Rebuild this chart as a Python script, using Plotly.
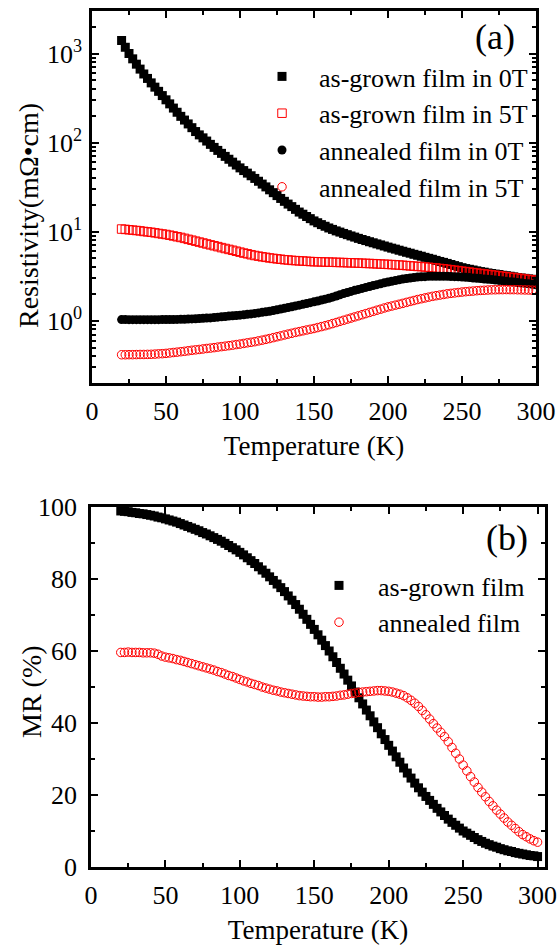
import plotly.graph_objects as go
import math

temperature_K = [
    20.0, 22.5, 25.0, 27.5, 30.0, 32.5, 35.0, 37.5,
    40.0, 42.5, 45.0, 47.5, 50.0, 52.5, 55.0, 57.5,
    60.0, 62.5, 65.0, 67.5, 70.0, 72.5, 75.0, 77.5,
    80.0, 82.5, 85.0, 87.5, 90.0, 92.5, 95.0, 97.5,
    100.0, 102.5, 105.0, 107.5, 110.0, 112.5, 115.0, 117.5,
    120.0, 122.5, 125.0, 127.5, 130.0, 132.5, 135.0, 137.5,
    140.0, 142.5, 145.0, 147.5, 150.0, 152.5, 155.0, 157.5,
    160.0, 162.5, 165.0, 167.5, 170.0, 172.5, 175.0, 177.5,
    180.0, 182.5, 185.0, 187.5, 190.0, 192.5, 195.0, 197.5,
    200.0, 202.5, 205.0, 207.5, 210.0, 212.5, 215.0, 217.5,
    220.0, 222.5, 225.0, 227.5, 230.0, 232.5, 235.0, 237.5,
    240.0, 242.5, 245.0, 247.5, 250.0, 252.5, 255.0, 257.5,
    260.0, 262.5, 265.0, 267.5, 270.0, 272.5, 275.0, 277.5,
    280.0, 282.5, 285.0, 287.5, 290.0, 292.5, 295.0, 297.5,
    300.0]

# Resistivity (mOhm cm)
rho_as_grown_0T = [
    1400, 1175, 1000, 871, 759, 668, 589, 525,
    468, 419, 376, 337, 302, 272, 244, 219,
    197, 179, 162, 147, 133, 122, 113, 104,
    95.5, 88.3, 81.7, 75.7, 70.0, 65.0, 60.3, 56.0,
    52.0, 48.5, 45.4, 42.4, 39.6, 36.8, 34.2, 31.8,
    29.5, 27.4, 25.4, 23.6, 21.9, 20.4, 19.1, 17.8,
    16.6, 15.7, 14.8, 14.0, 13.2, 12.6, 12.0, 11.5,
    11.0, 10.6, 10.2, 9.89, 9.55, 9.25, 8.95, 8.69,
    8.41, 8.17, 7.94, 7.71, 7.50, 7.29, 7.10, 6.90,
    6.71, 6.53, 6.37, 6.19, 6.03, 5.87, 5.73, 5.57,
    5.43, 5.30, 5.15, 5.02, 4.90, 4.76, 4.63, 4.52,
    4.40, 4.28, 4.16, 4.05, 3.94, 3.85, 3.78, 3.71,
    3.63, 3.56, 3.51, 3.44, 3.39, 3.34, 3.30, 3.24,
    3.20, 3.16, 3.11, 3.06, 3.02, 2.99, 2.95, 2.92,
    2.88]

rho_as_grown_5T = [
    10.7, 10.6, 10.5, 10.4, 10.3, 10.2, 10.05, 9.95,
    9.84, 9.70, 9.55, 9.42, 9.29, 9.12, 8.95, 8.77,
    8.61, 8.41, 8.20, 8.02, 7.82, 7.64, 7.46, 7.28,
    7.11, 6.95, 6.79, 6.62, 6.47, 6.32, 6.18, 6.03,
    5.89, 5.75, 5.64, 5.51, 5.40, 5.31, 5.22, 5.15,
    5.07, 5.01, 4.95, 4.90, 4.84, 4.81, 4.76, 4.73,
    4.70, 4.68, 4.65, 4.62, 4.60, 4.59, 4.57, 4.56,
    4.55, 4.54, 4.52, 4.51, 4.50, 4.48, 4.47, 4.45,
    4.44, 4.42, 4.40, 4.39, 4.37, 4.35, 4.33, 4.31,
    4.29, 4.27, 4.24, 4.22, 4.19, 4.16, 4.13, 4.10,
    4.07, 4.05, 4.01, 3.98, 3.94, 3.91, 3.86, 3.83,
    3.78, 3.74, 3.69, 3.65, 3.60, 3.56, 3.52, 3.47,
    3.43, 3.39, 3.35, 3.31, 3.27, 3.24, 3.19, 3.16,
    3.12, 3.08, 3.05, 3.01, 2.98, 2.94, 2.90, 2.87,
    2.84]

rho_annealed_0T = [
    1.030, 1.030, 1.029, 1.028, 1.028, 1.028, 1.028, 1.028,
    1.028, 1.029, 1.029, 1.030, 1.030, 1.032, 1.033, 1.035,
    1.037, 1.040, 1.044, 1.048, 1.052, 1.058, 1.064, 1.070,
    1.076, 1.086, 1.096, 1.107, 1.117, 1.127, 1.135, 1.146,
    1.156, 1.169, 1.180, 1.194, 1.208, 1.225, 1.242, 1.262,
    1.279, 1.303, 1.327, 1.352, 1.377, 1.406, 1.435, 1.466,
    1.496, 1.528, 1.560, 1.596, 1.629, 1.667, 1.706, 1.746,
    1.786, 1.841, 1.897, 1.959, 2.018, 2.075, 2.133, 2.193,
    2.249, 2.307, 2.366, 2.421, 2.483, 2.541, 2.600, 2.661,
    2.723, 2.773, 2.825, 2.877, 2.938, 2.979, 3.020, 3.055,
    3.090, 3.111, 3.126, 3.148, 3.162, 3.162, 3.162, 3.159,
    3.155, 3.141, 3.126, 3.108, 3.090, 3.069, 3.048, 3.020,
    2.999, 2.972, 2.944, 2.917, 2.897, 2.864, 2.834, 2.805,
    2.773, 2.742, 2.716, 2.685, 2.655, 2.624, 2.594, 2.564,
    2.535]

rho_annealed_5T = [
    0.415, 0.415, 0.416, 0.416, 0.417, 0.418, 0.418, 0.419,
    0.420, 0.422, 0.425, 0.427, 0.430, 0.435, 0.440, 0.444,
    0.449, 0.454, 0.460, 0.466, 0.471, 0.476, 0.482, 0.488,
    0.493, 0.499, 0.506, 0.512, 0.518, 0.525, 0.532, 0.540,
    0.547, 0.556, 0.565, 0.573, 0.582, 0.594, 0.605, 0.618,
    0.631, 0.646, 0.661, 0.676, 0.692, 0.708, 0.723, 0.740,
    0.755, 0.771, 0.787, 0.802, 0.818, 0.838, 0.859, 0.879,
    0.902, 0.929, 0.955, 0.984, 1.012, 1.042, 1.072, 1.104,
    1.135, 1.169, 1.202, 1.239, 1.274, 1.312, 1.349, 1.390,
    1.429, 1.462, 1.496, 1.531, 1.567, 1.607, 1.648, 1.687,
    1.730, 1.766, 1.803, 1.841, 1.879, 1.910, 1.941, 1.972,
    2.004, 2.028, 2.051, 2.075, 2.099, 2.118, 2.138, 2.153,
    2.173, 2.188, 2.198, 2.213, 2.223, 2.228, 2.234, 2.234,
    2.239, 2.234, 2.234, 2.228, 2.223, 2.218, 2.213, 2.203,
    2.198]

# Magnetoresistance (%)
mr_as_grown = [
    98.9, 98.8, 98.7, 98.5, 98.4, 98.2, 98.1, 97.9,
    97.7, 97.5, 97.2, 97.0, 96.7, 96.4, 96.1, 95.8,
    95.4, 95.0, 94.6, 94.2, 93.8, 93.4, 92.9, 92.5,
    92.0, 91.5, 91.0, 90.5, 89.9, 89.3, 88.7, 88.1,
    87.4, 86.7, 85.9, 85.1, 84.3, 83.4, 82.5, 81.6,
    80.6, 79.6, 78.6, 77.6, 76.5, 75.3, 74.1, 72.9,
    71.6, 70.2, 68.8, 67.4, 66.0, 64.5, 63.0, 61.5,
    60.0, 58.4, 56.8, 55.2, 53.6, 51.9, 50.3, 48.6,
    47.0, 45.3, 43.6, 42.0, 40.3, 38.7, 37.0, 35.4,
    33.8, 32.2, 30.6, 29.1, 27.5, 26.1, 24.7, 23.3,
    22.0, 20.8, 19.6, 18.5, 17.4, 16.3, 15.3, 14.3,
    13.3, 12.4, 11.6, 10.8, 10.0, 9.4, 8.8, 8.2,
    7.6, 7.1, 6.6, 6.2, 5.8, 5.5, 5.1, 4.8,
    4.5, 4.3, 4.0, 3.8, 3.6, 3.4, 3.2, 3.1,
    2.9]

mr_annealed = [
    59.6, 59.6, 59.7, 59.6, 59.6, 59.6, 59.5, 59.5,
    59.5, 59.4, 59.1, 58.6, 58.3, 58.1, 57.9, 57.6,
    57.4, 57.1, 56.8, 56.5, 56.2, 55.9, 55.6, 55.3,
    55.0, 54.7, 54.3, 54.0, 53.6, 53.2, 52.9, 52.5,
    52.1, 51.7, 51.4, 51.0, 50.7, 50.4, 50.0, 49.7,
    49.4, 49.1, 48.9, 48.6, 48.4, 48.2, 48.0, 47.8,
    47.6, 47.5, 47.4, 47.3, 47.3, 47.2, 47.2, 47.3,
    47.3, 47.4, 47.5, 47.7, 47.8, 48.0, 48.2, 48.3,
    48.5, 48.6, 48.7, 48.8, 48.9, 49.0, 49.0, 48.9,
    48.8, 48.6, 48.3, 48.0, 47.6, 47.0, 46.3, 45.5,
    44.6, 43.5, 42.3, 41.1, 39.8, 38.6, 37.4, 36.2,
    34.8, 33.2, 31.6, 30.0, 28.3, 26.7, 25.1, 23.6,
    22.1, 20.8, 19.5, 18.2, 17.0, 15.8, 14.7, 13.6,
    12.5, 11.6, 10.7, 9.8, 9.0, 8.4, 7.8, 7.3,
    6.9]

x_tick_values = [0, 50, 100, 150, 200, 250, 300]
x_minor_values = [25, 75, 125, 175, 225, 275]
rho_tick_values = [1, 10, 100, 1000]
rho_tick_text = ["10<sup>0</sup>", "10<sup>1</sup>", "10<sup>2</sup>", "10<sup>3</sup>"]
mr_tick_values = [0, 20, 40, 60, 80, 100]
mr_minor_values = [10, 30, 50, 70, 90]

FONT = "Liberation Serif, Times New Roman, DejaVu Serif, serif"
W, H = 560, 945

rho_minor = [m * 10 ** k for k in range(-1, 4) for m in range(2, 10)]
rho_minor = [v for v in rho_minor if 0.2 <= v <= 3000]

fig = go.Figure()


def add(x, y, name, symbol, filled, color, size, xa, ya, legend, group):
    fig.add_trace(go.Scatter(
        x=x, y=y, mode="markers", name=name, xaxis=xa, yaxis=ya,
        legend=legend, legendgroup=group,
        marker=dict(symbol=symbol, size=size, color=color,
                    line=dict(width=0 if filled else 1, color=color)),
    ))


add(temperature_K, rho_as_grown_0T, "as-grown film in 0T", "square", True, "black", 9, "x", "y", "legend", "g1")
add(temperature_K, rho_as_grown_5T, "as-grown film in 5T", "square-open", False, "#ff0000", 8.5, "x", "y", "legend", "g2")
add(temperature_K, rho_annealed_0T, "annealed film in 0T", "circle", True, "black", 9, "x", "y", "legend", "g3")
add(temperature_K, rho_annealed_5T, "annealed film in 5T", "circle-open", False, "#ff0000", 8.5, "x", "y", "legend", "g4")
add(temperature_K, mr_as_grown, "as-grown film", "square", True, "black", 9, "x2", "y2", "legend2", "h1")
add(temperature_K, mr_annealed, "annealed film", "circle-open", False, "#ff0000", 8.5, "x2", "y2", "legend2", "h2")

axis_common = dict(
    showgrid=False, zeroline=False, showline=True, linecolor="black", linewidth=2.5,
    mirror="allticks", ticks="inside", ticklen=7, tickwidth=2, tickcolor="black",
    tickfont=dict(family=FONT, size=26, color="black"), automargin=False,
)

fig.update_layout(
    width=W, height=H,
    margin=dict(l=0, r=0, t=0, b=0, autoexpand=False),
    paper_bgcolor="white", plot_bgcolor="white",
    font=dict(family=FONT, size=26, color="black"),
    showlegend=True,
    xaxis=dict(
        **axis_common, domain=[92 / W, 536 / W], range=[0, 300], anchor="y",
        tickmode="array", tickvals=x_tick_values,
        minor=dict(tickmode="array", tickvals=x_minor_values, ticks="inside", ticklen=4, tickwidth=2, tickcolor="black"),
        ticklabelstandoff=3,
        title=dict(text="Temperature (K)", font=dict(family=FONT, size=27), standoff=12),
    ),
    yaxis=dict(
        **axis_common, type="log", domain=[1 - 383 / H, 1 - 11 / H],
        range=[math.log10(0.2), math.log10(3000)], anchor="x",
        tickmode="array", tickvals=rho_tick_values, ticktext=rho_tick_text,
        minor=dict(tickmode="array", tickvals=rho_minor, ticks="inside", ticklen=4, tickwidth=2, tickcolor="black"),
        ticklabelstandoff=2,
    ),
    xaxis2=dict(
        **axis_common, domain=[91 / W, 545 / W], range=[0, 305], anchor="y2",
        tickmode="array", tickvals=x_tick_values,
        minor=dict(tickmode="array", tickvals=x_minor_values, ticks="inside", ticklen=4, tickwidth=2, tickcolor="black"),
        ticklabelstandoff=3,
        title=dict(text="Temperature (K)", font=dict(family=FONT, size=27), standoff=16),
    ),
    yaxis2=dict(
        **axis_common, domain=[1 - 867 / H, 1 - 507 / H], range=[0, 100], anchor="x2",
        tickmode="array", tickvals=mr_tick_values,
        minor=dict(tickmode="array", tickvals=mr_minor_values, ticks="inside", ticklen=4, tickwidth=2, tickcolor="black"),
        ticklabelstandoff=6,
    ),
    legend=dict(
        x=245 / W, y=1 - 53 / H, xanchor="left", yanchor="top",
        bgcolor="rgba(0,0,0,0)", borderwidth=0,
        font=dict(family=FONT, size=26, color="black"),
        tracegroupgap=0, itemwidth=64,
    ),
    legend2=dict(
        x=300 / W, y=1 - 562 / H, xanchor="left", yanchor="top",
        bgcolor="rgba(0,0,0,0)", borderwidth=0,
        font=dict(family=FONT, size=26, color="black"),
        tracegroupgap=0, itemwidth=68,
    ),
    annotations=[
        dict(text="Resistivity(mΩ•cm)", x=29 / W, y=1 - 216 / H, xref="paper", yref="paper",
             showarrow=False, xanchor="center", yanchor="middle", textangle=-90,
             font=dict(family=FONT, size=28, color="black")),
        dict(text="MR (%)", x=31 / W, y=1 - 692 / H, xref="paper", yref="paper",
             showarrow=False, xanchor="center", yanchor="middle", textangle=-90,
             font=dict(family=FONT, size=28, color="black")),
        dict(text="(a)", x=495 / W, y=1 - 37 / H, xref="paper", yref="paper",
             showarrow=False, xanchor="center", yanchor="middle",
             font=dict(family=FONT, size=36, color="black")),
        dict(text="(b)", x=507 / W, y=1 - 538 / H, xref="paper", yref="paper",
             showarrow=False, xanchor="center", yanchor="middle",
             font=dict(family=FONT, size=36, color="black")),
    ],
)

fig.write_html("out.html")
